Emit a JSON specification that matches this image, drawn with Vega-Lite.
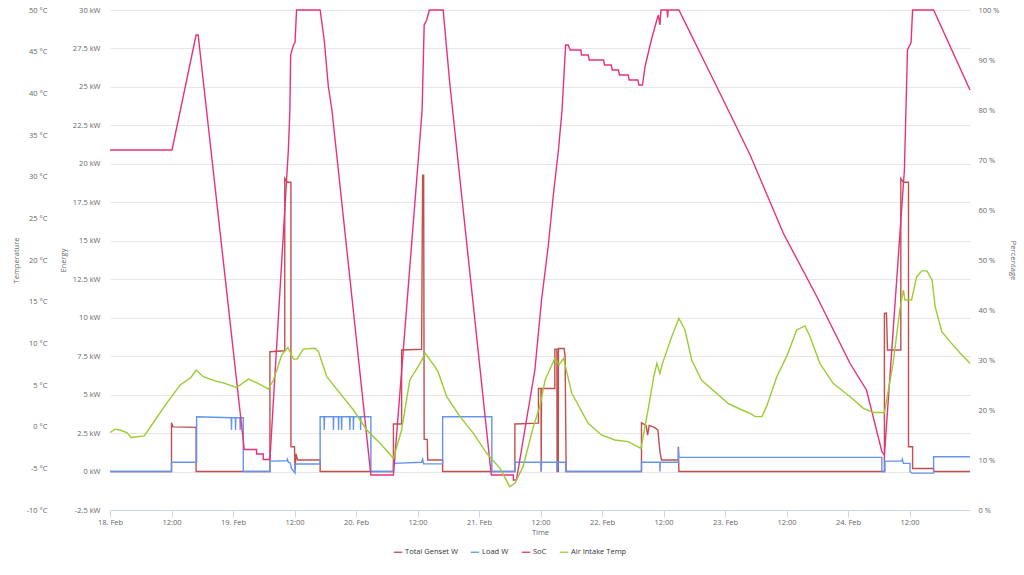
{
  "$schema": "https://vega.github.io/schema/vega-lite/v6.json",
  "width": 860,
  "height": 500,
  "autosize": {"type": "none"},
  "padding": {"left": 110, "top": 10, "right": 54, "bottom": 65},
  "config": {
    "font": "Open Sans",
    "view": {"stroke": null},
    "axis": {"labelFontSize": 7.5, "labelColor": "#666666", "titleFontSize": 7.5, "titleColor": "#666666", "titleFontWeight": "normal"}
  },
  "data": {"values": [
      {"series": "Total Genset W", "time": "2019-02-18T00:00", "value": 0},
      {"series": "Total Genset W", "time": "2019-02-18T12:00", "value": 0},
      {"series": "Total Genset W", "time": "2019-02-18T12:00", "value": 3.17},
      {"series": "Total Genset W", "time": "2019-02-18T12:18", "value": 2.9},
      {"series": "Total Genset W", "time": "2019-02-18T16:48", "value": 2.87},
      {"series": "Total Genset W", "time": "2019-02-18T16:48", "value": 0},
      {"series": "Total Genset W", "time": "2019-02-19T07:12", "value": 0},
      {"series": "Total Genset W", "time": "2019-02-19T07:12", "value": 7.79},
      {"series": "Total Genset W", "time": "2019-02-19T10:06", "value": 7.85},
      {"series": "Total Genset W", "time": "2019-02-19T10:06", "value": 19.06},
      {"series": "Total Genset W", "time": "2019-02-19T10:36", "value": 18.8},
      {"series": "Total Genset W", "time": "2019-02-19T11:18", "value": 18.8},
      {"series": "Total Genset W", "time": "2019-02-19T11:18", "value": 1.61},
      {"series": "Total Genset W", "time": "2019-02-19T12:00", "value": 1.61},
      {"series": "Total Genset W", "time": "2019-02-19T12:06", "value": 0.1},
      {"series": "Total Genset W", "time": "2019-02-19T12:18", "value": 1.14},
      {"series": "Total Genset W", "time": "2019-02-19T12:36", "value": 0.75},
      {"series": "Total Genset W", "time": "2019-02-19T17:00", "value": 0.75},
      {"series": "Total Genset W", "time": "2019-02-19T17:00", "value": 0},
      {"series": "Total Genset W", "time": "2019-02-20T07:18", "value": 0},
      {"series": "Total Genset W", "time": "2019-02-20T07:18", "value": 3.09},
      {"series": "Total Genset W", "time": "2019-02-20T08:54", "value": 3.09},
      {"series": "Total Genset W", "time": "2019-02-20T08:54", "value": 7.9},
      {"series": "Total Genset W", "time": "2019-02-20T12:48", "value": 7.95},
      {"series": "Total Genset W", "time": "2019-02-20T13:00", "value": 19.27},
      {"series": "Total Genset W", "time": "2019-02-20T13:12", "value": 19.27},
      {"series": "Total Genset W", "time": "2019-02-20T13:18", "value": 2.09},
      {"series": "Total Genset W", "time": "2019-02-20T13:54", "value": 2.09},
      {"series": "Total Genset W", "time": "2019-02-20T14:00", "value": 0.75},
      {"series": "Total Genset W", "time": "2019-02-20T16:54", "value": 0.75},
      {"series": "Total Genset W", "time": "2019-02-20T16:54", "value": 0},
      {"series": "Total Genset W", "time": "2019-02-21T07:00", "value": 0},
      {"series": "Total Genset W", "time": "2019-02-21T07:00", "value": 3.09},
      {"series": "Total Genset W", "time": "2019-02-21T11:36", "value": 3.15},
      {"series": "Total Genset W", "time": "2019-02-21T11:36", "value": 5.4},
      {"series": "Total Genset W", "time": "2019-02-21T12:06", "value": 5.4},
      {"series": "Total Genset W", "time": "2019-02-21T12:08", "value": 0},
      {"series": "Total Genset W", "time": "2019-02-21T12:12", "value": 5.4},
      {"series": "Total Genset W", "time": "2019-02-21T14:48", "value": 5.4},
      {"series": "Total Genset W", "time": "2019-02-21T14:48", "value": 7.96},
      {"series": "Total Genset W", "time": "2019-02-21T15:12", "value": 7.96},
      {"series": "Total Genset W", "time": "2019-02-21T15:14", "value": 0},
      {"series": "Total Genset W", "time": "2019-02-21T15:28", "value": 0},
      {"series": "Total Genset W", "time": "2019-02-21T15:30", "value": 8.0},
      {"series": "Total Genset W", "time": "2019-02-21T16:36", "value": 8.0},
      {"series": "Total Genset W", "time": "2019-02-21T16:48", "value": 7.5},
      {"series": "Total Genset W", "time": "2019-02-21T17:00", "value": 0},
      {"series": "Total Genset W", "time": "2019-02-22T07:42", "value": 0},
      {"series": "Total Genset W", "time": "2019-02-22T07:42", "value": 3.17},
      {"series": "Total Genset W", "time": "2019-02-22T08:36", "value": 3.0},
      {"series": "Total Genset W", "time": "2019-02-22T08:54", "value": 2.37},
      {"series": "Total Genset W", "time": "2019-02-22T09:12", "value": 3.0},
      {"series": "Total Genset W", "time": "2019-02-22T10:12", "value": 2.87},
      {"series": "Total Genset W", "time": "2019-02-22T10:54", "value": 2.7},
      {"series": "Total Genset W", "time": "2019-02-22T11:18", "value": 1.29},
      {"series": "Total Genset W", "time": "2019-02-22T11:36", "value": 0.75},
      {"series": "Total Genset W", "time": "2019-02-22T14:54", "value": 0.75},
      {"series": "Total Genset W", "time": "2019-02-22T14:54", "value": 1.61},
      {"series": "Total Genset W", "time": "2019-02-22T15:00", "value": 0},
      {"series": "Total Genset W", "time": "2019-02-24T07:06", "value": 0},
      {"series": "Total Genset W", "time": "2019-02-24T07:06", "value": 10.28},
      {"series": "Total Genset W", "time": "2019-02-24T07:30", "value": 10.3},
      {"series": "Total Genset W", "time": "2019-02-24T07:42", "value": 7.9},
      {"series": "Total Genset W", "time": "2019-02-24T10:18", "value": 7.9},
      {"series": "Total Genset W", "time": "2019-02-24T10:18", "value": 19.06},
      {"series": "Total Genset W", "time": "2019-02-24T10:48", "value": 18.8},
      {"series": "Total Genset W", "time": "2019-02-24T11:48", "value": 18.8},
      {"series": "Total Genset W", "time": "2019-02-24T11:48", "value": 1.61},
      {"series": "Total Genset W", "time": "2019-02-24T12:36", "value": 1.61},
      {"series": "Total Genset W", "time": "2019-02-24T12:36", "value": 0.2},
      {"series": "Total Genset W", "time": "2019-02-24T16:42", "value": 0.2},
      {"series": "Total Genset W", "time": "2019-02-24T16:42", "value": 0},
      {"series": "Total Genset W", "time": "2019-02-24T23:48", "value": 0},
      {"series": "Load W", "time": "2019-02-18T00:00", "value": 0},
      {"series": "Load W", "time": "2019-02-18T12:00", "value": 0},
      {"series": "Load W", "time": "2019-02-18T12:00", "value": 0.6},
      {"series": "Load W", "time": "2019-02-18T16:54", "value": 0.6},
      {"series": "Load W", "time": "2019-02-18T16:54", "value": 3.56},
      {"series": "Load W", "time": "2019-02-18T23:39", "value": 3.5},
      {"series": "Load W", "time": "2019-02-18T23:42", "value": 2.7},
      {"series": "Load W", "time": "2019-02-18T23:45", "value": 3.5},
      {"series": "Load W", "time": "2019-02-19T00:27", "value": 3.5},
      {"series": "Load W", "time": "2019-02-19T00:30", "value": 2.7},
      {"series": "Load W", "time": "2019-02-19T00:33", "value": 3.5},
      {"series": "Load W", "time": "2019-02-19T01:21", "value": 3.5},
      {"series": "Load W", "time": "2019-02-19T01:24", "value": 2.7},
      {"series": "Load W", "time": "2019-02-19T01:27", "value": 3.5},
      {"series": "Load W", "time": "2019-02-19T02:00", "value": 3.5},
      {"series": "Load W", "time": "2019-02-19T02:00", "value": 0},
      {"series": "Load W", "time": "2019-02-19T07:12", "value": 0},
      {"series": "Load W", "time": "2019-02-19T07:12", "value": 0.68},
      {"series": "Load W", "time": "2019-02-19T10:30", "value": 0.7},
      {"series": "Load W", "time": "2019-02-19T10:36", "value": 0.8},
      {"series": "Load W", "time": "2019-02-19T10:48", "value": 0.6},
      {"series": "Load W", "time": "2019-02-19T11:12", "value": 0.55},
      {"series": "Load W", "time": "2019-02-19T11:24", "value": 0.2},
      {"series": "Load W", "time": "2019-02-19T12:06", "value": -0.1},
      {"series": "Load W", "time": "2019-02-19T12:12", "value": 0.49},
      {"series": "Load W", "time": "2019-02-19T17:00", "value": 0.49},
      {"series": "Load W", "time": "2019-02-19T17:00", "value": 3.56},
      {"series": "Load W", "time": "2019-02-19T17:45", "value": 3.56},
      {"series": "Load W", "time": "2019-02-19T17:48", "value": 2.7},
      {"series": "Load W", "time": "2019-02-19T17:51", "value": 3.56},
      {"series": "Load W", "time": "2019-02-19T19:33", "value": 3.56},
      {"series": "Load W", "time": "2019-02-19T19:36", "value": 2.7},
      {"series": "Load W", "time": "2019-02-19T19:39", "value": 3.56},
      {"series": "Load W", "time": "2019-02-19T20:33", "value": 3.56},
      {"series": "Load W", "time": "2019-02-19T20:36", "value": 2.7},
      {"series": "Load W", "time": "2019-02-19T20:39", "value": 3.56},
      {"series": "Load W", "time": "2019-02-19T21:09", "value": 3.56},
      {"series": "Load W", "time": "2019-02-19T21:12", "value": 2.7},
      {"series": "Load W", "time": "2019-02-19T21:15", "value": 3.56},
      {"series": "Load W", "time": "2019-02-19T22:45", "value": 3.56},
      {"series": "Load W", "time": "2019-02-19T22:48", "value": 2.7},
      {"series": "Load W", "time": "2019-02-19T22:51", "value": 3.56},
      {"series": "Load W", "time": "2019-02-19T23:27", "value": 3.56},
      {"series": "Load W", "time": "2019-02-19T23:30", "value": 2.7},
      {"series": "Load W", "time": "2019-02-19T23:33", "value": 3.56},
      {"series": "Load W", "time": "2019-02-20T00:51", "value": 3.56},
      {"series": "Load W", "time": "2019-02-20T00:54", "value": 2.7},
      {"series": "Load W", "time": "2019-02-20T00:57", "value": 3.56},
      {"series": "Load W", "time": "2019-02-20T02:54", "value": 3.56},
      {"series": "Load W", "time": "2019-02-20T02:54", "value": 0},
      {"series": "Load W", "time": "2019-02-20T07:18", "value": 0},
      {"series": "Load W", "time": "2019-02-20T07:18", "value": 0.53},
      {"series": "Load W", "time": "2019-02-20T12:48", "value": 0.6},
      {"series": "Load W", "time": "2019-02-20T13:00", "value": 0.8},
      {"series": "Load W", "time": "2019-02-20T13:12", "value": 0.5},
      {"series": "Load W", "time": "2019-02-20T16:54", "value": 0.5},
      {"series": "Load W", "time": "2019-02-20T16:54", "value": 3.56},
      {"series": "Load W", "time": "2019-02-21T02:30", "value": 3.56},
      {"series": "Load W", "time": "2019-02-21T02:30", "value": 0},
      {"series": "Load W", "time": "2019-02-21T07:00", "value": 0},
      {"series": "Load W", "time": "2019-02-21T07:00", "value": 0.6},
      {"series": "Load W", "time": "2019-02-21T12:06", "value": 0.6},
      {"series": "Load W", "time": "2019-02-21T12:08", "value": 0},
      {"series": "Load W", "time": "2019-02-21T12:12", "value": 0.6},
      {"series": "Load W", "time": "2019-02-21T15:12", "value": 0.6},
      {"series": "Load W", "time": "2019-02-21T15:14", "value": 0},
      {"series": "Load W", "time": "2019-02-21T15:22", "value": 0.6},
      {"series": "Load W", "time": "2019-02-21T16:54", "value": 0.6},
      {"series": "Load W", "time": "2019-02-21T16:54", "value": 0},
      {"series": "Load W", "time": "2019-02-22T07:42", "value": 0},
      {"series": "Load W", "time": "2019-02-22T07:42", "value": 0.6},
      {"series": "Load W", "time": "2019-02-22T11:16", "value": 0.6},
      {"series": "Load W", "time": "2019-02-22T11:18", "value": 0},
      {"series": "Load W", "time": "2019-02-22T11:22", "value": 0.6},
      {"series": "Load W", "time": "2019-02-22T14:54", "value": 0.6},
      {"series": "Load W", "time": "2019-02-22T14:54", "value": 1.5},
      {"series": "Load W", "time": "2019-02-22T15:00", "value": 0.92},
      {"series": "Load W", "time": "2019-02-24T06:36", "value": 0.92},
      {"series": "Load W", "time": "2019-02-24T06:36", "value": 0},
      {"series": "Load W", "time": "2019-02-24T07:12", "value": 0},
      {"series": "Load W", "time": "2019-02-24T07:12", "value": 0.68},
      {"series": "Load W", "time": "2019-02-24T10:30", "value": 0.68},
      {"series": "Load W", "time": "2019-02-24T10:36", "value": 0.8},
      {"series": "Load W", "time": "2019-02-24T10:48", "value": 0.53},
      {"series": "Load W", "time": "2019-02-24T12:06", "value": 0.53},
      {"series": "Load W", "time": "2019-02-24T12:06", "value": 0},
      {"series": "Load W", "time": "2019-02-24T12:30", "value": -0.1},
      {"series": "Load W", "time": "2019-02-24T16:42", "value": -0.1},
      {"series": "Load W", "time": "2019-02-24T16:42", "value": 0.96},
      {"series": "Load W", "time": "2019-02-24T23:48", "value": 0.96},
      {"series": "SoC", "time": "2019-02-18T00:00", "value": 72},
      {"series": "SoC", "time": "2019-02-18T12:06", "value": 72},
      {"series": "SoC", "time": "2019-02-18T16:48", "value": 95},
      {"series": "SoC", "time": "2019-02-18T17:12", "value": 95},
      {"series": "SoC", "time": "2019-02-19T02:12", "value": 12.1},
      {"series": "SoC", "time": "2019-02-19T04:36", "value": 12.1},
      {"series": "SoC", "time": "2019-02-19T04:36", "value": 11.2},
      {"series": "SoC", "time": "2019-02-19T05:54", "value": 11.2},
      {"series": "SoC", "time": "2019-02-19T05:54", "value": 10.1},
      {"series": "SoC", "time": "2019-02-19T07:12", "value": 10.1},
      {"series": "SoC", "time": "2019-02-19T10:48", "value": 72},
      {"series": "SoC", "time": "2019-02-19T11:06", "value": 80},
      {"series": "SoC", "time": "2019-02-19T11:15", "value": 91},
      {"series": "SoC", "time": "2019-02-19T11:48", "value": 93},
      {"series": "SoC", "time": "2019-02-19T12:06", "value": 93.5},
      {"series": "SoC", "time": "2019-02-19T12:24", "value": 100},
      {"series": "SoC", "time": "2019-02-19T17:00", "value": 100},
      {"series": "SoC", "time": "2019-02-19T17:48", "value": 94},
      {"series": "SoC", "time": "2019-02-19T18:36", "value": 84.7},
      {"series": "SoC", "time": "2019-02-19T19:18", "value": 80},
      {"series": "SoC", "time": "2019-02-20T02:54", "value": 7},
      {"series": "SoC", "time": "2019-02-20T07:18", "value": 7},
      {"series": "SoC", "time": "2019-02-20T12:18", "value": 72},
      {"series": "SoC", "time": "2019-02-20T12:54", "value": 80},
      {"series": "SoC", "time": "2019-02-20T13:18", "value": 97},
      {"series": "SoC", "time": "2019-02-20T13:48", "value": 98},
      {"series": "SoC", "time": "2019-02-20T14:18", "value": 100},
      {"series": "SoC", "time": "2019-02-20T17:00", "value": 100},
      {"series": "SoC", "time": "2019-02-20T18:18", "value": 85.3},
      {"series": "SoC", "time": "2019-02-21T02:24", "value": 7},
      {"series": "SoC", "time": "2019-02-21T06:42", "value": 7},
      {"series": "SoC", "time": "2019-02-21T06:42", "value": 6},
      {"series": "SoC", "time": "2019-02-21T07:18", "value": 6},
      {"series": "SoC", "time": "2019-02-21T10:54", "value": 28},
      {"series": "SoC", "time": "2019-02-21T12:12", "value": 42},
      {"series": "SoC", "time": "2019-02-21T13:30", "value": 52.7},
      {"series": "SoC", "time": "2019-02-21T14:30", "value": 63},
      {"series": "SoC", "time": "2019-02-21T15:30", "value": 72},
      {"series": "SoC", "time": "2019-02-21T16:12", "value": 80},
      {"series": "SoC", "time": "2019-02-21T16:54", "value": 93},
      {"series": "SoC", "time": "2019-02-21T17:24", "value": 93},
      {"series": "SoC", "time": "2019-02-21T17:48", "value": 92},
      {"series": "SoC", "time": "2019-02-21T19:54", "value": 92},
      {"series": "SoC", "time": "2019-02-21T20:00", "value": 91},
      {"series": "SoC", "time": "2019-02-21T21:18", "value": 91},
      {"series": "SoC", "time": "2019-02-21T21:30", "value": 90},
      {"series": "SoC", "time": "2019-02-22T00:18", "value": 90},
      {"series": "SoC", "time": "2019-02-22T00:30", "value": 89},
      {"series": "SoC", "time": "2019-02-22T01:48", "value": 89},
      {"series": "SoC", "time": "2019-02-22T02:00", "value": 88},
      {"series": "SoC", "time": "2019-02-22T03:12", "value": 88},
      {"series": "SoC", "time": "2019-02-22T03:24", "value": 87},
      {"series": "SoC", "time": "2019-02-22T05:06", "value": 87},
      {"series": "SoC", "time": "2019-02-22T05:18", "value": 86},
      {"series": "SoC", "time": "2019-02-22T07:00", "value": 86},
      {"series": "SoC", "time": "2019-02-22T07:12", "value": 85},
      {"series": "SoC", "time": "2019-02-22T07:54", "value": 85},
      {"series": "SoC", "time": "2019-02-22T08:24", "value": 88.7},
      {"series": "SoC", "time": "2019-02-22T09:00", "value": 91.3},
      {"series": "SoC", "time": "2019-02-22T09:42", "value": 94.3},
      {"series": "SoC", "time": "2019-02-22T10:42", "value": 98},
      {"series": "SoC", "time": "2019-02-22T11:00", "value": 99},
      {"series": "SoC", "time": "2019-02-22T11:18", "value": 97},
      {"series": "SoC", "time": "2019-02-22T11:30", "value": 100},
      {"series": "SoC", "time": "2019-02-22T12:42", "value": 100},
      {"series": "SoC", "time": "2019-02-22T12:48", "value": 98.5},
      {"series": "SoC", "time": "2019-02-22T12:54", "value": 100},
      {"series": "SoC", "time": "2019-02-22T15:00", "value": 100},
      {"series": "SoC", "time": "2019-02-23T00:00", "value": 81.3},
      {"series": "SoC", "time": "2019-02-23T04:54", "value": 71},
      {"series": "SoC", "time": "2019-02-23T11:24", "value": 55.3},
      {"series": "SoC", "time": "2019-02-23T17:54", "value": 42.7},
      {"series": "SoC", "time": "2019-02-24T00:24", "value": 29.3},
      {"series": "SoC", "time": "2019-02-24T03:36", "value": 24},
      {"series": "SoC", "time": "2019-02-24T06:36", "value": 11.7},
      {"series": "SoC", "time": "2019-02-24T07:06", "value": 11},
      {"series": "SoC", "time": "2019-02-24T11:00", "value": 68},
      {"series": "SoC", "time": "2019-02-24T11:36", "value": 92},
      {"series": "SoC", "time": "2019-02-24T12:18", "value": 93.5},
      {"series": "SoC", "time": "2019-02-24T12:36", "value": 100},
      {"series": "SoC", "time": "2019-02-24T16:42", "value": 100},
      {"series": "SoC", "time": "2019-02-24T23:48", "value": 84},
      {"series": "Air Intake Temp", "time": "2019-02-18T00:00", "value": -0.7},
      {"series": "Air Intake Temp", "time": "2019-02-18T01:00", "value": -0.3},
      {"series": "Air Intake Temp", "time": "2019-02-18T01:54", "value": -0.4},
      {"series": "Air Intake Temp", "time": "2019-02-18T03:18", "value": -0.7},
      {"series": "Air Intake Temp", "time": "2019-02-18T04:06", "value": -1.3},
      {"series": "Air Intake Temp", "time": "2019-02-18T06:42", "value": -1.1},
      {"series": "Air Intake Temp", "time": "2019-02-18T08:48", "value": 0.8},
      {"series": "Air Intake Temp", "time": "2019-02-18T10:42", "value": 2.5},
      {"series": "Air Intake Temp", "time": "2019-02-18T12:00", "value": 3.6},
      {"series": "Air Intake Temp", "time": "2019-02-18T13:42", "value": 5.0},
      {"series": "Air Intake Temp", "time": "2019-02-18T15:48", "value": 5.9},
      {"series": "Air Intake Temp", "time": "2019-02-18T16:48", "value": 6.8},
      {"series": "Air Intake Temp", "time": "2019-02-18T18:12", "value": 6.0},
      {"series": "Air Intake Temp", "time": "2019-02-18T20:30", "value": 5.5},
      {"series": "Air Intake Temp", "time": "2019-02-18T22:24", "value": 5.2},
      {"series": "Air Intake Temp", "time": "2019-02-19T00:42", "value": 4.7},
      {"series": "Air Intake Temp", "time": "2019-02-19T03:00", "value": 5.7},
      {"series": "Air Intake Temp", "time": "2019-02-19T04:54", "value": 5.2},
      {"series": "Air Intake Temp", "time": "2019-02-19T06:54", "value": 4.5},
      {"series": "Air Intake Temp", "time": "2019-02-19T07:54", "value": 5.6},
      {"series": "Air Intake Temp", "time": "2019-02-19T09:30", "value": 8.6},
      {"series": "Air Intake Temp", "time": "2019-02-19T10:42", "value": 9.5},
      {"series": "Air Intake Temp", "time": "2019-02-19T11:48", "value": 8.1},
      {"series": "Air Intake Temp", "time": "2019-02-19T12:30", "value": 8.1},
      {"series": "Air Intake Temp", "time": "2019-02-19T13:42", "value": 9.3},
      {"series": "Air Intake Temp", "time": "2019-02-19T16:00", "value": 9.4},
      {"series": "Air Intake Temp", "time": "2019-02-19T16:42", "value": 9.0},
      {"series": "Air Intake Temp", "time": "2019-02-19T17:00", "value": 8.4},
      {"series": "Air Intake Temp", "time": "2019-02-19T18:18", "value": 6.0},
      {"series": "Air Intake Temp", "time": "2019-02-19T20:54", "value": 4.0},
      {"series": "Air Intake Temp", "time": "2019-02-19T23:30", "value": 2.0},
      {"series": "Air Intake Temp", "time": "2019-02-20T02:06", "value": -0.4},
      {"series": "Air Intake Temp", "time": "2019-02-20T04:42", "value": -2.0},
      {"series": "Air Intake Temp", "time": "2019-02-20T07:18", "value": -3.8},
      {"series": "Air Intake Temp", "time": "2019-02-20T08:54", "value": -0.4},
      {"series": "Air Intake Temp", "time": "2019-02-20T10:30", "value": 5.6},
      {"series": "Air Intake Temp", "time": "2019-02-20T12:30", "value": 7.6},
      {"series": "Air Intake Temp", "time": "2019-02-20T13:30", "value": 8.8},
      {"series": "Air Intake Temp", "time": "2019-02-20T15:24", "value": 7.2},
      {"series": "Air Intake Temp", "time": "2019-02-20T16:00", "value": 6.6},
      {"series": "Air Intake Temp", "time": "2019-02-20T17:42", "value": 3.6},
      {"series": "Air Intake Temp", "time": "2019-02-20T20:18", "value": 1.2},
      {"series": "Air Intake Temp", "time": "2019-02-20T22:54", "value": -0.8},
      {"series": "Air Intake Temp", "time": "2019-02-21T01:30", "value": -3.2},
      {"series": "Air Intake Temp", "time": "2019-02-21T04:06", "value": -5.0},
      {"series": "Air Intake Temp", "time": "2019-02-21T06:00", "value": -7.2},
      {"series": "Air Intake Temp", "time": "2019-02-21T07:00", "value": -6.8},
      {"series": "Air Intake Temp", "time": "2019-02-21T08:36", "value": -4.8},
      {"series": "Air Intake Temp", "time": "2019-02-21T10:36", "value": 0.0},
      {"series": "Air Intake Temp", "time": "2019-02-21T11:54", "value": 2.5},
      {"series": "Air Intake Temp", "time": "2019-02-21T12:54", "value": 5.6},
      {"series": "Air Intake Temp", "time": "2019-02-21T14:48", "value": 8.2},
      {"series": "Air Intake Temp", "time": "2019-02-21T15:36", "value": 7.4},
      {"series": "Air Intake Temp", "time": "2019-02-21T16:30", "value": 8.2},
      {"series": "Air Intake Temp", "time": "2019-02-21T18:06", "value": 4.0},
      {"series": "Air Intake Temp", "time": "2019-02-21T21:18", "value": 0.4},
      {"series": "Air Intake Temp", "time": "2019-02-21T23:54", "value": -1.0},
      {"series": "Air Intake Temp", "time": "2019-02-22T02:30", "value": -1.6},
      {"series": "Air Intake Temp", "time": "2019-02-22T05:06", "value": -1.8},
      {"series": "Air Intake Temp", "time": "2019-02-22T07:36", "value": -2.6},
      {"series": "Air Intake Temp", "time": "2019-02-22T09:06", "value": 2.4},
      {"series": "Air Intake Temp", "time": "2019-02-22T10:06", "value": 6.0},
      {"series": "Air Intake Temp", "time": "2019-02-22T10:42", "value": 7.6},
      {"series": "Air Intake Temp", "time": "2019-02-22T11:18", "value": 6.4},
      {"series": "Air Intake Temp", "time": "2019-02-22T11:48", "value": 7.6},
      {"series": "Air Intake Temp", "time": "2019-02-22T13:36", "value": 10.8},
      {"series": "Air Intake Temp", "time": "2019-02-22T15:00", "value": 13.0},
      {"series": "Air Intake Temp", "time": "2019-02-22T16:12", "value": 11.6},
      {"series": "Air Intake Temp", "time": "2019-02-22T17:30", "value": 8.0},
      {"series": "Air Intake Temp", "time": "2019-02-22T19:24", "value": 5.6},
      {"series": "Air Intake Temp", "time": "2019-02-22T22:00", "value": 4.2},
      {"series": "Air Intake Temp", "time": "2019-02-23T00:36", "value": 2.8},
      {"series": "Air Intake Temp", "time": "2019-02-23T03:18", "value": 2.0},
      {"series": "Air Intake Temp", "time": "2019-02-23T04:54", "value": 1.6},
      {"series": "Air Intake Temp", "time": "2019-02-23T05:54", "value": 1.2},
      {"series": "Air Intake Temp", "time": "2019-02-23T07:12", "value": 1.2},
      {"series": "Air Intake Temp", "time": "2019-02-23T08:06", "value": 2.4},
      {"series": "Air Intake Temp", "time": "2019-02-23T10:06", "value": 6.0},
      {"series": "Air Intake Temp", "time": "2019-02-23T12:00", "value": 8.4},
      {"series": "Air Intake Temp", "time": "2019-02-23T14:00", "value": 11.6},
      {"series": "Air Intake Temp", "time": "2019-02-23T15:36", "value": 12.1},
      {"series": "Air Intake Temp", "time": "2019-02-23T16:36", "value": 10.8},
      {"series": "Air Intake Temp", "time": "2019-02-23T18:30", "value": 7.6},
      {"series": "Air Intake Temp", "time": "2019-02-23T21:06", "value": 5.2},
      {"series": "Air Intake Temp", "time": "2019-02-24T00:24", "value": 3.6},
      {"series": "Air Intake Temp", "time": "2019-02-24T03:00", "value": 2.2},
      {"series": "Air Intake Temp", "time": "2019-02-24T04:54", "value": 1.7},
      {"series": "Air Intake Temp", "time": "2019-02-24T07:06", "value": 1.7},
      {"series": "Air Intake Temp", "time": "2019-02-24T08:48", "value": 7.6},
      {"series": "Air Intake Temp", "time": "2019-02-24T10:06", "value": 14.0},
      {"series": "Air Intake Temp", "time": "2019-02-24T10:48", "value": 16.4},
      {"series": "Air Intake Temp", "time": "2019-02-24T11:06", "value": 15.2},
      {"series": "Air Intake Temp", "time": "2019-02-24T12:24", "value": 15.2},
      {"series": "Air Intake Temp", "time": "2019-02-24T13:24", "value": 18.0},
      {"series": "Air Intake Temp", "time": "2019-02-24T14:24", "value": 18.7},
      {"series": "Air Intake Temp", "time": "2019-02-24T15:24", "value": 18.7},
      {"series": "Air Intake Temp", "time": "2019-02-24T16:24", "value": 17.6},
      {"series": "Air Intake Temp", "time": "2019-02-24T17:00", "value": 14.4},
      {"series": "Air Intake Temp", "time": "2019-02-24T18:18", "value": 11.4},
      {"series": "Air Intake Temp", "time": "2019-02-24T19:54", "value": 10.2},
      {"series": "Air Intake Temp", "time": "2019-02-24T21:54", "value": 8.8},
      {"series": "Air Intake Temp", "time": "2019-02-24T23:48", "value": 7.6}
  ]},
  "encoding": {
    "x": {
      "field": "time", "type": "temporal", "title": "Time",
      "scale": {"domain": [{"year": 2019, "month": 2, "date": 18, "hours": 0}, {"year": 2019, "month": 2, "date": 24, "hours": 23, "minutes": 48}]},
      "axis": {
        "values": [
          {"year": 2019, "month": 2, "date": 18, "hours": 0}, {"year": 2019, "month": 2, "date": 18, "hours": 12},
          {"year": 2019, "month": 2, "date": 19, "hours": 0}, {"year": 2019, "month": 2, "date": 19, "hours": 12},
          {"year": 2019, "month": 2, "date": 20, "hours": 0}, {"year": 2019, "month": 2, "date": 20, "hours": 12},
          {"year": 2019, "month": 2, "date": 21, "hours": 0}, {"year": 2019, "month": 2, "date": 21, "hours": 12},
          {"year": 2019, "month": 2, "date": 22, "hours": 0}, {"year": 2019, "month": 2, "date": 22, "hours": 12},
          {"year": 2019, "month": 2, "date": 23, "hours": 0}, {"year": 2019, "month": 2, "date": 23, "hours": 12},
          {"year": 2019, "month": 2, "date": 24, "hours": 0}, {"year": 2019, "month": 2, "date": 24, "hours": 12}
        ],
        "labelExpr": "timeFormat(datum.value, '%H') == '00' ? timeFormat(datum.value, '%d. %b') : timeFormat(datum.value, '%H:%M')",
        "grid": false, "domainColor": "#ccd6eb", "tickColor": "#ccd6eb", "tickSize": 7,
        "labelPadding": 1, "labelFlush": false, "labelOverlap": false, "titlePadding": 3
      }
    },
    "color": {
      "field": "series", "type": "nominal",
      "scale": {"domain": ["Total Genset W", "Load W", "SoC", "Air Intake Temp"], "range": ["#c0504d", "#6495ed", "#e8317e", "#9acd32"]},
      "legend": {
        "title": null, "orient": "none", "legendX": 283, "legendY": 537, "direction": "horizontal",
        "labelFontSize": 7.5, "labelColor": "#333333", "symbolType": "stroke", "symbolSize": 72,
        "symbolStrokeWidth": 1.3, "columnPadding": 10, "labelOffset": 2, "padding": 0
      }
    }
  },
  "layer": [
    {
      "transform": [{"filter": "datum.series == 'Total Genset W' || datum.series == 'Load W'"}],
      "mark": {"type": "line", "strokeWidth": 1.4},
      "encoding": {
        "y": {
          "field": "value", "type": "quantitative", "title": "Energy",
          "scale": {"domain": [-2.5, 30], "nice": false, "zero": false},
          "axis": {
            "orient": "left",
            "values": [-2.5, 0, 2.5, 5, 7.5, 10, 12.5, 15, 17.5, 20, 22.5, 25, 27.5, 30],
            "labelExpr": "datum.value + ' kW'",
            "grid": true, "gridColor": "#e6e6e6", "domain": false, "ticks": false,
            "labelPadding": 10, "titleX": -43, "titleY": 250
          }
        }
      }
    },
    {
      "transform": [{"filter": "datum.series == 'SoC'"}],
      "mark": {"type": "line", "strokeWidth": 1.4},
      "encoding": {
        "y": {
          "field": "value", "type": "quantitative", "title": "Percentage",
          "scale": {"domain": [0, 100], "nice": false},
          "axis": {
            "orient": "right",
            "values": [0, 10, 20, 30, 40, 50, 60, 70, 80, 90, 100],
            "labelExpr": "datum.value + ' %'",
            "grid": false, "domain": false, "ticks": false,
            "labelPadding": 8, "titleX": 38, "titleY": 250, "titleAngle": 90
          }
        }
      }
    },
    {
      "transform": [{"filter": "datum.series == 'Air Intake Temp'"}],
      "mark": {"type": "line", "strokeWidth": 1.4},
      "encoding": {
        "y": {
          "field": "value", "type": "quantitative", "title": "Temperature",
          "scale": {"domain": [-10, 50], "nice": false, "zero": false},
          "axis": {
            "orient": "left", "offset": 55,
            "values": [-10, -5, 0, 5, 10, 15, 20, 25, 30, 35, 40, 45, 50],
            "labelExpr": "datum.value + ' °C'",
            "grid": false, "domain": false, "ticks": false,
            "labelPadding": 8, "titleX": -35, "titleY": 250
          }
        }
      }
    }
  ],
  "resolve": {"scale": {"y": "independent"}, "axis": {"y": "independent"}}
}
